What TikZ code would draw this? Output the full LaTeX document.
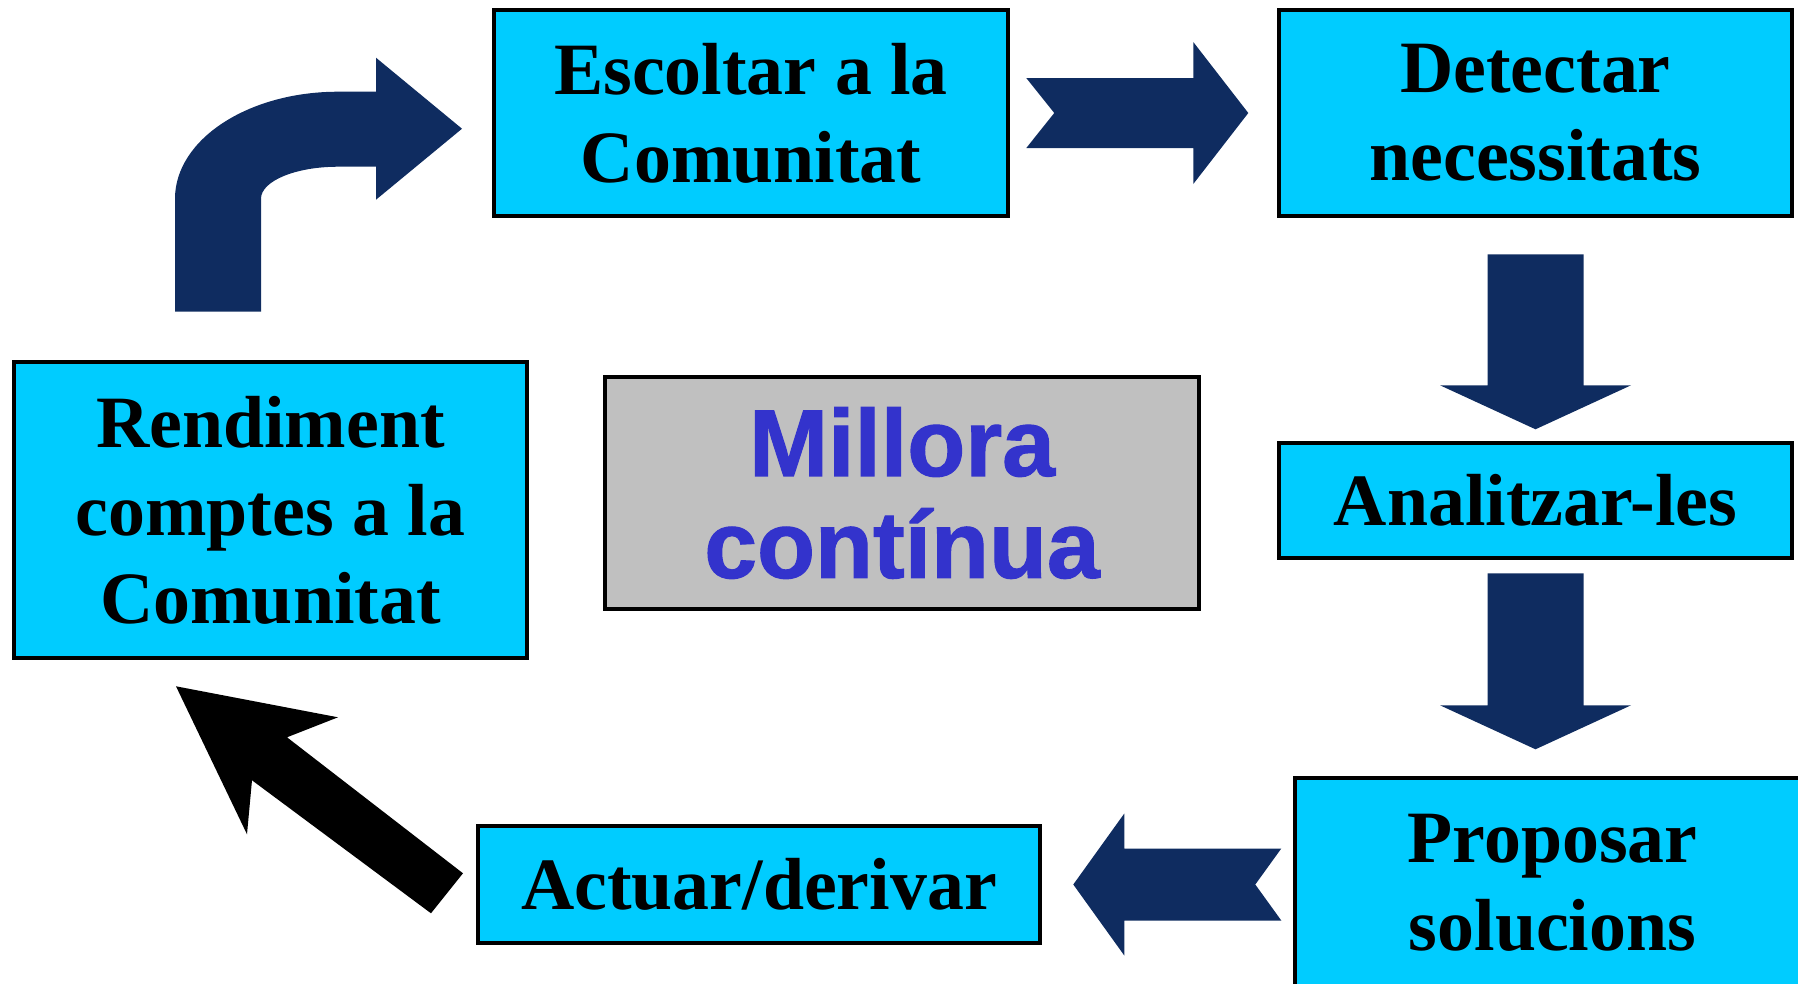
\documentclass[tikz,border=0pt]{standalone}
\usepackage{fontspec}
\setmainfont{Liberation Serif}
\newfontfamily\headfont[BoldFeatures={FakeBold=1.2}]{Liberation Sans}
\usetikzlibrary{calc}
\definecolor{boxcyan}{HTML}{00CCFF}
\definecolor{arrownavy}{HTML}{0F2C60}
\definecolor{centregray}{HTML}{C0C0C0}
\definecolor{centreblue}{HTML}{3333CC}

\begin{document}
\begin{tikzpicture}[
    line width=1.3pt,
    stepbox/.style={draw=black, fill=boxcyan, line width=1.3pt, align=center, inner sep=0pt, font=\bfseries\fontsize{21}{25}\selectfont},
    blockarrow/.style={fill=#1, draw=none}
]
    \useasboundingbox (0,0) rectangle (17.98,9.83);

    % 1. Steps of the cycle
    \node[stepbox, minimum width=5.14cm, minimum height=2.06cm] (escoltar) at (7.51, 8.70) {Escoltar a la\\Comunitat};
    \node[stepbox, minimum width=5.13cm, minimum height=2.06cm] (detectar) at (15.355, 8.70) {Detectar\\necessitats};
    \node[stepbox, minimum width=5.13cm, minimum height=1.15cm] (analitzar) at (15.355, 4.825) {Analitzar-les};
    \node[stepbox, minimum width=5.15cm, minimum height=2.09cm] (proposar) at (15.525, 1.005) {Proposar\\solucions};
    \node[stepbox, minimum width=5.62cm, minimum height=1.17cm] (actuar) at (7.59, 0.985) {Actuar/derivar};
    \node[stepbox, minimum width=5.13cm, minimum height=2.96cm] (rendiment) at (2.705, 4.73) {Rendiment\\comptes a la\\Comunitat};

    % 2. Centre box
    \node[draw=black, fill=centregray, line width=1.3pt, minimum width=5.94cm, minimum height=2.32cm, align=center, inner sep=0pt,
          text=centreblue, font=\headfont\bfseries\fontsize{27}{29}\selectfont] (millora) at (9.02, 4.90) {Millora\\contínua};

    % 3. Block arrows between the steps
    % rendiment -> escoltar (bent)
    \fill[blockarrow=arrownavy, shift={(rendiment.north)}] (-0.955,0.48) -- (-0.955,1.61)
        arc[start angle=180, end angle=90, x radius=1.63, y radius=1.07] -- (1.055,2.68) -- (1.055,3.02)
        -- (1.915,2.31) -- (1.055,1.60) -- (1.055,1.93) -- (0.675,1.93)
        arc[start angle=90, end angle=180, x radius=0.77, y radius=0.32] -- (-0.095,0.48) -- cycle;
    % escoltar -> detectar
    \fill[blockarrow=arrownavy, shift={(escoltar.east)}] (0.16,0.35) -- (0.44,0) -- (0.16,-0.35) -- (1.83,-0.35)
        -- (1.83,-0.71) -- (2.38,0) -- (1.83,0.71) -- (1.83,0.35) -- cycle;
    % detectar -> analitzar
    \fill[blockarrow=arrownavy, shift={(detectar.south)}] (-0.48,-0.36) -- (-0.48,-1.67) -- (-0.955,-1.67)
        -- (0,-2.11) -- (0.955,-1.67) -- (0.48,-1.67) -- (0.48,-0.36) -- cycle;
    % analitzar -> proposar
    \fill[blockarrow=arrownavy, shift={(analitzar.south)}] (-0.48,-0.13) -- (-0.48,-1.45) -- (-0.955,-1.45)
        -- (0,-1.89) -- (0.955,-1.45) -- (0.48,-1.45) -- (0.48,-0.13) -- cycle;
    % proposar -> actuar
    \fill[blockarrow=arrownavy, shift={(actuar.east)}] (2.39,0.36) -- (2.13,0) -- (2.39,-0.36) -- (0.82,-0.36)
        -- (0.82,-0.71) -- (0.31,0) -- (0.82,0.71) -- (0.82,0.36) -- cycle;
    % actuar -> rendiment
    \fill[blockarrow=black, shift={(rendiment.south)}] (-0.945,-0.26) -- (0.675,-0.57) -- (0.165,-0.77)
        -- (1.925,-2.13) -- (1.605,-2.53) -- (-0.185,-1.20) -- (-0.235,-1.74) -- cycle;

\end{tikzpicture}
\end{document}
